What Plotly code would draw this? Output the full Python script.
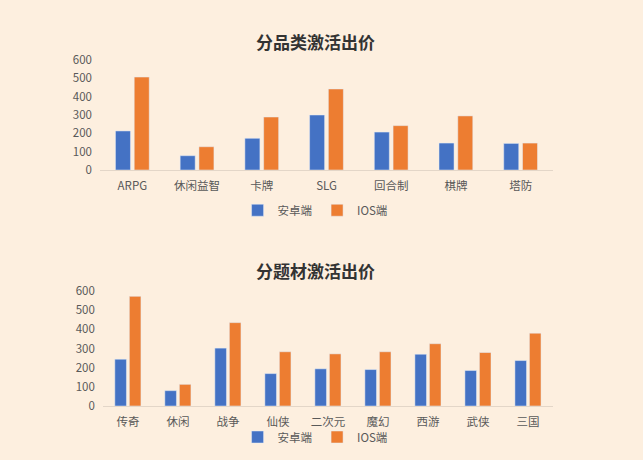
import plotly.graph_objects as go

# 分品类
cats1 = ['ARPG', '休闲益智', '卡牌', 'SLG', '回合制', '棋牌', '塔防']
android1 = [213, 78, 173, 300, 207, 147, 145]
ios1 = [507, 127, 289, 442, 242, 295, 147]

# 分题材
cats2 = ['传奇', '休闲', '战争', '仙侠', '二次元', '魔幻', '西游', '武侠', '三国']
android2 = [244, 80, 302, 169, 194, 190, 270, 185, 237]
ios2 = [572, 113, 435, 283, 272, 283, 325, 279, 380]

blue = '#4472C4'
orange = '#ED7D31'
bg = '#FDEFDF'
font = 'Noto Sans CJK SC'

fig = go.Figure()
fig.add_trace(go.Bar(x=cats1, y=android1, name='安卓端', marker_color=blue,
                     xaxis='x', yaxis='y', legend='legend'))
fig.add_trace(go.Bar(x=cats1, y=ios1, name='IOS端', marker_color=orange,
                     xaxis='x', yaxis='y', legend='legend'))
fig.add_trace(go.Bar(x=cats2, y=android2, name='安卓端', marker_color=blue,
                     xaxis='x2', yaxis='y2', legend='legend2'))
fig.add_trace(go.Bar(x=cats2, y=ios2, name='IOS端', marker_color=orange,
                     xaxis='x2', yaxis='y2', legend='legend2'))

tick_font = dict(family=font, size=11.5, color='#595959')
xcommon = dict(showline=True, linecolor='#E3D6C8', linewidth=1, ticks='',
               tickfont=tick_font, showgrid=False, ticklabelstandoff=5)
ycommon = dict(range=[0, 600], dtick=100, showgrid=False, zeroline=False,
               tickfont=tick_font, ticks='', showline=False, ticklabelstandoff=7)

# legends sit under each chart
legend_common = dict(orientation='h', xanchor='center', yanchor='middle',
                     xref='container', yref='container',
                     bgcolor='rgba(0,0,0,0)', font=dict(family=font, size=11.5, color='#595959'),
                     itemwidth=30, traceorder='normal')

title_font = dict(family=font, size=17, color='#333333')

fig.update_layout(
    width=643, height=460,
    margin=dict(l=0, r=0, t=0, b=0, autoexpand=False),
    paper_bgcolor=bg, plot_bgcolor=bg,
    barmode='group', bargap=0.42, bargroupgap=0.2,
    xaxis=dict(domain=[0.1555, 0.86], anchor='y', **xcommon),
    yaxis=dict(domain=[0.6304, 0.8696], anchor='x', **ycommon),
    xaxis2=dict(domain=[0.160, 0.86], anchor='y2', **xcommon),
    yaxis2=dict(domain=[0.1174, 0.3674], anchor='x2', **ycommon),
    legend=dict(x=0.49, y=0.543, **legend_common),
    legend2=dict(x=0.49, y=0.05, **legend_common),
    annotations=[
        dict(text='<b>分品类激活出价</b>', x=0.49, y=0.9087, xref='paper', yref='paper',
             xanchor='center', yanchor='middle', showarrow=False, font=title_font),
        dict(text='<b>分题材激活出价</b>', x=0.49, y=0.413, xref='paper', yref='paper',
             xanchor='center', yanchor='middle', showarrow=False, font=title_font),
    ],
)

fig.write_html('out.html', config={'displayModeBar': False},
               post_script="document.body.style.margin='0';")
